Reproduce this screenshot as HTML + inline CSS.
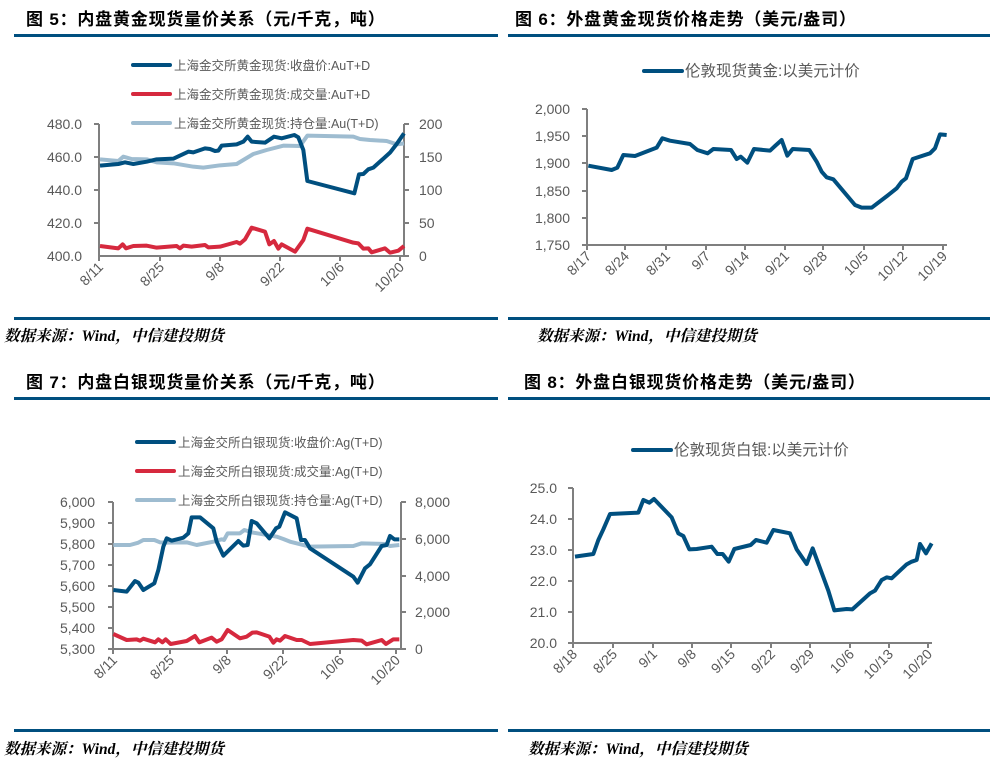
<!DOCTYPE html>
<html><head><meta charset="utf-8"><style>
html,body{margin:0;padding:0;background:#fff}
svg{display:block}
.t{font:bold 17px "Liberation Sans","Noto Sans CJK SC",sans-serif;fill:#000;letter-spacing:0.8px}
.s{font:italic bold 15.5px "Liberation Serif","Noto Serif CJK SC",serif;fill:#000}
.a{font:14px "Liberation Sans","Noto Sans CJK SC",sans-serif;fill:#595959}
.l{font:12.5px "Liberation Sans","Noto Sans CJK SC",sans-serif;fill:#595959}
.l2{font:15.5px "Liberation Sans","Noto Sans CJK SC",sans-serif;fill:#595959}
</style></head><body>
<svg width="993" height="765" viewBox="0 0 993 765" xmlns="http://www.w3.org/2000/svg">
<g fill="#004f7f">
<rect x="14" y="34" width="484" height="3"/><rect x="508" y="34" width="482" height="3"/>
<rect x="14" y="317" width="484" height="3"/><rect x="508" y="317" width="482" height="3"/>
<rect x="14" y="397" width="484" height="3"/><rect x="508" y="397" width="482" height="3"/>
<rect x="14" y="729" width="484" height="3"/><rect x="508" y="729" width="482" height="3"/>
</g>
<text class="t" x="26" y="25">图 5：内盘黄金现货量价关系（元/千克，吨）</text>
<text class="t" x="515" y="25">图 6：外盘黄金现货价格走势（美元/盎司）</text>
<text class="t" x="26" y="388">图 7：内盘白银现货量价关系（元/千克，吨）</text>
<text class="t" x="524" y="388">图 8：外盘白银现货价格走势（美元/盎司）</text>
<text class="s" x="4" y="341">数据来源：Wind，中信建投期货</text>
<text class="s" x="537" y="341">数据来源：Wind，中信建投期货</text>
<text class="s" x="4" y="754">数据来源：Wind，中信建投期货</text>
<text class="s" x="528" y="754">数据来源：Wind，中信建投期货</text>

<!-- Chart 5 -->
<g stroke="#7f7f7f" stroke-width="2" fill="none">
<path d="M99 124V256H404M99 124h-5M99 157h-5M99 190h-5M99 223h-5M404 124V256M404 124h5M404 157h5M404 190h5M404 223h5M404 256h5"/>
<path d="M99 256v5M160 256v5M220 256v5M280 256v5M340 256v5M400 256v5"/>
</g>
<g class="a" text-anchor="end"><text x="82" y="129">480.0</text><text x="82" y="162">460.0</text><text x="82" y="195">440.0</text><text x="82" y="228">420.0</text><text x="82" y="261">400.0</text></g>
<g class="a"><text x="419" y="129">200</text><text x="419" y="162">150</text><text x="419" y="195">100</text><text x="419" y="228">50</text><text x="419" y="261">0</text></g>
<g class="a" text-anchor="end">
<text transform="translate(104,268) rotate(-45)">8/11</text><text transform="translate(165,268) rotate(-45)">8/25</text><text transform="translate(225,268) rotate(-45)">9/8</text><text transform="translate(285,268) rotate(-45)">9/22</text><text transform="translate(345,268) rotate(-45)">10/6</text><text transform="translate(405,268) rotate(-45)">10/20</text></g>
<g stroke-width="4" stroke-linecap="round">
<line x1="133" y1="65" x2="170" y2="65" stroke="#004f7f"/><line x1="133" y1="94" x2="170" y2="94" stroke="#d6293e"/><line x1="133" y1="123" x2="170" y2="123" stroke="#9ebcd0"/></g>
<g class="l"><text x="174" y="70">上海金交所黄金现货:收盘价:AuT+D</text><text x="174" y="99">上海金交所黄金现货:成交量:AuT+D</text><text x="174" y="128">上海金交所黄金现货:持仓量:Au(T+D)</text></g>
<g transform="scale(0.33333)" fill="none" stroke-width="12" stroke-linejoin="round">
<path stroke="#9ebcd0" d="M300 478L355 483L370 470L395 477L440 478L470 487L520 490L580 500L610 503L660 496L710 492L760 462L800 450L850 437L900 438L922 407L1060 410L1080 417L1110 420L1160 423L1190 433L1212 430"/>
<path stroke="#d6293e" d="M300 738L355 745L368 733L378 745L400 738L440 737L470 743L530 738L540 745L550 737L575 740L615 735L625 742L660 740L710 726L720 731L735 718L755 683L795 695L808 733L822 723L835 746L845 733L885 755L910 720L922 686L1060 728L1075 730L1090 746L1105 745L1115 757L1155 745L1170 758L1195 752L1212 738"/>
<path stroke="#004f7f" d="M300 497L355 492L375 487L400 492L440 485L470 478L520 476L565 455L580 457L615 445L630 447L645 453L655 452L665 437L710 433L730 425L743 410L755 425L795 428L822 410L845 415L883 405L895 412L910 450L922 543L1063 580L1077 523L1090 522L1105 508L1120 503L1170 458L1190 432L1212 400"/>
</g>

<!-- Chart 7 -->
<g stroke="#7f7f7f" stroke-width="2" fill="none">
<path d="M113 502V649H401M113 502h-5M113 523h-5M113 544h-5M113 565h-5M113 586h-5M113 607h-5M113 628h-5M113 649h-5M401 502V649M401 502h5M401 539h5M401 576h5M401 612h5M401 649h5"/>
<path d="M113 649v5M170 649v5M227 649v5M283 649v5M340 649v5M396 649v5"/>
</g>
<g class="a" text-anchor="end"><text x="95" y="507">6,000</text><text x="95" y="528">5,900</text><text x="95" y="549">5,800</text><text x="95" y="570">5,700</text><text x="95" y="591">5,600</text><text x="95" y="612">5,500</text><text x="95" y="633">5,400</text><text x="95" y="654">5,300</text></g>
<g class="a"><text x="415" y="507">8,000</text><text x="415" y="544">6,000</text><text x="415" y="581">4,000</text><text x="415" y="617">2,000</text><text x="415" y="654">0</text></g>
<g class="a" text-anchor="end">
<text transform="translate(118,661) rotate(-45)">8/11</text><text transform="translate(175,661) rotate(-45)">8/25</text><text transform="translate(232,661) rotate(-45)">9/8</text><text transform="translate(288,661) rotate(-45)">9/22</text><text transform="translate(345,661) rotate(-45)">10/6</text><text transform="translate(401,661) rotate(-45)">10/20</text></g>
<g stroke-width="4" stroke-linecap="round">
<line x1="137" y1="442" x2="174" y2="442" stroke="#004f7f"/><line x1="137" y1="471" x2="174" y2="471" stroke="#d6293e"/><line x1="137" y1="500" x2="174" y2="500" stroke="#9ebcd0"/></g>
<g class="l"><text x="178" y="447">上海金交所白银现货:收盘价:Ag(T+D)</text><text x="178" y="476">上海金交所白银现货:成交量:Ag(T+D)</text><text x="178" y="505">上海金交所白银现货:持仓量:Ag(T+D)</text></g>
<g transform="translate(0,410) scale(0.33333)" fill="none" stroke-width="12" stroke-linejoin="round">
<path stroke="#9ebcd0" d="M340 405L390 405L415 398L430 390L463 390L480 397L500 398L560 397L590 405L640 395L665 388L672 390L683 370L720 370L733 360L760 368L830 380L850 387L870 395L930 410L1060 408L1085 400L1155 402L1170 408L1198 405"/>
<path stroke="#d6293e" d="M340 672L380 690L410 688L420 692L430 686L465 697L475 688L487 697L497 688L512 702L560 693L585 678L598 697L635 683L650 695L665 688L683 660L720 685L740 680L757 668L770 667L808 680L820 698L830 688L840 692L855 678L890 690L905 690L930 702L1060 690L1085 692L1100 703L1145 690L1158 702L1180 688L1198 688"/>
<path stroke="#004f7f" d="M340 540L380 545L405 513L415 518L430 540L463 520L475 480L490 410L500 385L515 392L550 383L565 370L575 322L600 322L640 355L650 395L670 437L715 393L730 407L743 405L755 333L770 340L808 385L828 355L838 350L855 307L890 325L903 390L915 390L930 415L1060 500L1073 518L1095 475L1110 463L1145 408L1160 405L1170 378L1183 388L1198 388"/>
</g>

<!-- Chart 6 -->
<g stroke="#7f7f7f" stroke-width="2" fill="none">
<path d="M587 109V245H947M587 109h-5M587 136h-5M587 163h-5M587 191h-5M587 218h-5M587 245h-5"/>
<path d="M587 245v5M625 245v5M666 245v5M706 245v5M745 245v5M785 245v5M823 245v5M864 245v5M903 245v5M943 245v5"/>
</g>
<g class="a" text-anchor="end"><text x="570" y="114">2,000</text><text x="570" y="141">1,950</text><text x="570" y="168">1,900</text><text x="570" y="196">1,850</text><text x="570" y="223">1,800</text><text x="570" y="250">1,750</text></g>
<g class="a" text-anchor="end">
<text transform="translate(592,257) rotate(-45)">8/17</text><text transform="translate(630,257) rotate(-45)">8/24</text><text transform="translate(671,257) rotate(-45)">8/31</text><text transform="translate(711,257) rotate(-45)">9/7</text><text transform="translate(750,257) rotate(-45)">9/14</text><text transform="translate(790,257) rotate(-45)">9/21</text><text transform="translate(828,257) rotate(-45)">9/28</text><text transform="translate(869,257) rotate(-45)">10/5</text><text transform="translate(908,257) rotate(-45)">10/12</text><text transform="translate(948,257) rotate(-45)">10/19</text></g>
<line x1="644" y1="71" x2="682" y2="71" stroke="#004f7f" stroke-width="4" stroke-linecap="round"/>
<text class="l2" x="685" y="76">伦敦现货黄金:以美元计价</text>
<g transform="translate(500,40) scale(0.33333)" fill="none" stroke-width="12" stroke-linejoin="round">
<path stroke="#004f7f" d="M265 377L335 390L352 383L370 345L405 348L470 323L487 295L510 302L570 312L592 330L623 340L640 327L693 330L710 357L722 350L742 368L762 327L810 332L825 318L845 300L862 347L878 327L928 330L950 365L965 395L980 412L1000 418L1065 495L1085 503L1115 503L1165 465L1190 445L1205 425L1218 415L1238 357L1290 340L1305 325L1320 283L1340 285"/>
</g>

<!-- Chart 8 -->
<g stroke="#7f7f7f" stroke-width="2" fill="none">
<path d="M573 488V643H932M573 488h-5M573 519h-5M573 550h-5M573 581h-5M573 612h-5M573 643h-5"/>
<path d="M573 643v5M613 643v5M653 643v5M692 643v5M731 643v5M771 643v5M810 643v5M850 643v5M889 643v5M928 643v5"/>
</g>
<g class="a" text-anchor="end"><text x="557" y="493">25.0</text><text x="557" y="524">24.0</text><text x="557" y="555">23.0</text><text x="557" y="586">22.0</text><text x="557" y="617">21.0</text><text x="557" y="648">20.0</text></g>
<g class="a" text-anchor="end">
<text transform="translate(578,655) rotate(-45)">8/18</text><text transform="translate(618,655) rotate(-45)">8/25</text><text transform="translate(658,655) rotate(-45)">9/1</text><text transform="translate(697,655) rotate(-45)">9/8</text><text transform="translate(736,655) rotate(-45)">9/15</text><text transform="translate(776,655) rotate(-45)">9/22</text><text transform="translate(815,655) rotate(-45)">9/29</text><text transform="translate(855,655) rotate(-45)">10/6</text><text transform="translate(894,655) rotate(-45)">10/13</text><text transform="translate(933,655) rotate(-45)">10/20</text></g>
<line x1="633" y1="450" x2="671" y2="450" stroke="#004f7f" stroke-width="4" stroke-linecap="round"/>
<text class="l2" x="674" y="455">伦敦现货白银:以美元计价</text>
<g transform="translate(500,430) scale(0.33333)" fill="none" stroke-width="12" stroke-linejoin="round">
<path stroke="#004f7f" d="M225 380L280 372L295 330L310 298L330 252L415 248L430 210L448 218L462 207L515 262L535 310L550 318L568 358L590 357L635 350L652 372L668 372L686 395L703 357L752 345L768 330L800 338L820 300L870 310L890 358L920 402L938 355L985 482L1003 541L1040 537L1057 538L1110 490L1125 482L1145 450L1160 442L1175 445L1220 403L1235 395L1250 390L1260 342L1278 370L1295 340"/>
</g>
</svg>
</body></html>
